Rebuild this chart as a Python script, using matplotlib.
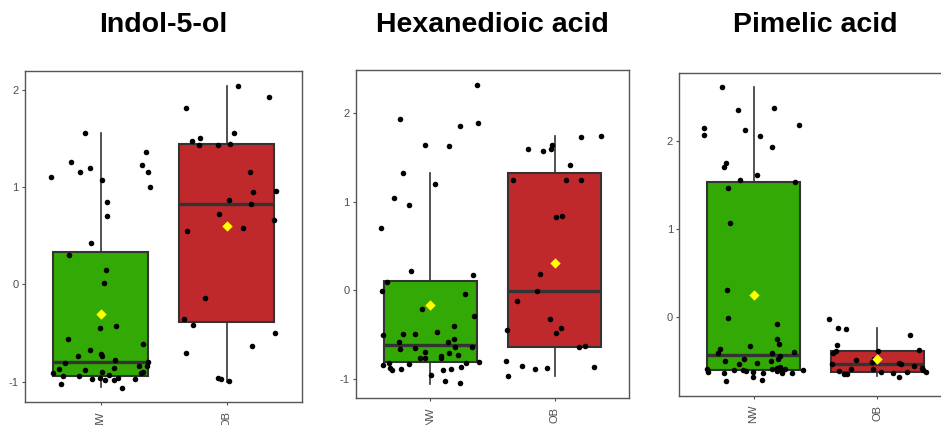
import matplotlib
matplotlib.use('Agg')
import matplotlib.pyplot as plt

plt.rcParams['font.family'] = ['Liberation Sans', 'DejaVu Sans']
plt.rcParams['axes.unicode_minus'] = False

titles = ['Indol-5-ol', 'Hexanedioic acid', 'Pimelic acid']
groups = ['NW', 'OB']
colors = ['#32a904', '#bf292b']

# box stats per panel: [NW, OB] -> (whislo, q1, med, q3, whishi)
box_stats = [
    [(-1.06, -0.94, -0.80, 0.33, 1.55), (-1.00, -0.39, 0.82, 1.44, 2.04)],
    [(-1.06, -0.81, -0.62, 0.106, 1.32), (-0.97, -0.64, -0.01, 1.33, 1.74)],
    [(-0.70, -0.605, -0.433, 1.54, 2.616), (-0.68, -0.63, -0.54, -0.39, -0.133)],
]
means = [[-0.31, 0.60], [-0.17, 0.31], [0.243, -0.483]]

# jittered points: (x offset from group centre, value)
p1_nw = [(-0.392, 1.103), (-0.238, 1.260), (-0.167, 1.154), (-0.127, 1.555), (-0.085, 1.192),
         (0.011, 1.072), (0.053, 0.849), (0.048, 0.705), (-0.077, 0.425), (-0.254, 0.298),
         (0.042, 0.144), (0.029, 0.014), (0.325, 1.223), (0.362, 1.353), (0.378, 1.154),
         (0.394, 1.003), (-0.008, -0.452), (0.119, -0.432), (-0.259, -0.558), (0.336, -0.613),
         (-0.087, -0.678), (-0.183, -0.733), (0.0, -0.719), (0.008, -0.733), (0.111, -0.774),
         (-0.283, -0.805), (0.304, -0.836), (0.373, -0.801), (0.365, -0.836), (-0.331, -0.870),
         (-0.376, -0.908), (-0.124, -0.884), (0.013, -0.901), (0.108, -0.860), (0.317, -0.914),
         (0.336, -0.901), (-0.299, -0.942), (-0.172, -0.938), (-0.066, -0.969), (-0.008, -0.966),
         (0.034, -0.983), (0.069, -0.932), (0.108, -0.983), (0.138, -0.962), (0.275, -0.976),
         (-0.312, -1.021), (0.172, -1.065)]
p1_ob = [(-0.320, 1.808), (-0.275, 1.476), (-0.212, 1.497), (-0.222, 1.435), (-0.069, 1.435),
         (0.056, 1.551), (0.024, 1.438), (0.090, 2.038), (0.339, 1.925), (0.185, 1.154),
         (0.212, 0.945), (0.394, 0.955), (0.021, 0.863), (0.196, 0.825), (-0.056, 0.726),
         (0.381, 0.658), (-0.310, 0.545), (0.132, 0.582), (-0.172, -0.140), (-0.339, -0.356),
         (-0.270, -0.418), (0.386, -0.500), (0.204, -0.630), (-0.320, -0.709), (-0.066, -0.966),
         (-0.042, -0.976), (0.021, -0.997)]
p2_nw = [(0.373, 2.321), (0.381, 1.887), (-0.249, 1.936), (0.236, 1.860), (-0.040, 1.642),
         (0.153, 1.634), (-0.225, 1.328), (0.038, 1.196), (-0.295, 1.038), (-0.169, 0.958),
         (-0.397, 0.706), (-0.153, 0.219), (0.340, 0.166), (-0.394, -0.011), (-0.354, 0.087),
         (0.282, -0.045), (-0.070, -0.215), (0.351, -0.298), (0.190, -0.404), (-0.381, -0.502),
         (-0.225, -0.494), (-0.121, -0.494), (0.054, -0.468), (0.193, -0.555), (0.142, -0.585),
         (-0.252, -0.592), (-0.247, -0.664), (-0.126, -0.657), (0.198, -0.645), (0.338, -0.645),
         (-0.046, -0.694), (-0.086, -0.762), (-0.043, -0.762), (0.083, -0.743), (0.088, -0.766),
         (0.147, -0.713), (0.223, -0.732), (-0.383, -0.849), (-0.332, -0.823), (-0.172, -0.834),
         (-0.308, -0.898), (-0.322, -0.879), (-0.241, -0.887), (0.290, -0.819), (0.389, -0.808),
         (0.105, -0.898), (0.169, -0.891), (0.249, -0.868), (0.008, -0.955), (0.121, -1.023),
         (0.241, -1.053)]
p2_ob = [(0.375, 1.747), (0.214, 1.732), (-0.021, 1.642), (-0.027, 1.596), (-0.091, 1.574),
         (-0.217, 1.596), (0.121, 1.415), (0.094, 1.242), (0.217, 1.245), (-0.335, 1.242),
         (0.059, 0.838), (0.011, 0.823), (-0.118, 0.185), (-0.145, -0.008), (-0.300, -0.121),
         (-0.038, -0.328), (-0.383, -0.453), (0.056, -0.430), (0.008, -0.487), (0.201, -0.642),
         (0.244, -0.630), (-0.394, -0.796), (-0.373, -0.974), (-0.265, -0.860), (-0.155, -0.894),
         (-0.064, -0.879), (0.319, -0.868)]
p3_nw = [(-0.256, 2.620), (-0.127, 2.354), (0.167, 2.373), (-0.402, 2.148), (-0.402, 2.076),
         (-0.073, 2.125), (0.051, 2.057), (0.369, 2.186), (0.146, 1.928), (-0.221, 1.757),
         (-0.237, 1.711), (-0.113, 1.563), (0.027, 1.616), (-0.208, 1.464), (0.337, 1.532),
         (-0.189, 1.065), (-0.216, 0.308), (-0.205, -0.011), (0.191, -0.087), (0.191, -0.259),
         (0.205, -0.308), (-0.275, -0.369), (-0.291, -0.414), (-0.032, -0.331), (0.146, -0.418),
         (0.326, -0.407), (0.213, -0.452), (0.199, -0.479), (-0.232, -0.510), (-0.075, -0.483),
         (-0.116, -0.544), (0.030, -0.529), (0.143, -0.510), (0.213, -0.570), (-0.377, -0.593),
         (-0.372, -0.627), (-0.237, -0.646), (-0.156, -0.612), (-0.089, -0.608), (-0.062, -0.620),
         (-0.003, -0.627), (-0.003, -0.684), (0.073, -0.639), (0.151, -0.597), (0.186, -0.589),
         (0.191, -0.624), (0.226, -0.608), (0.251, -0.601), (0.232, -0.646), (0.310, -0.639),
         (0.402, -0.605), (-0.226, -0.738), (0.065, -0.719)]
p3_ob = [(-0.391, -0.030), (-0.315, -0.129), (-0.251, -0.141), (0.261, -0.205), (-0.323, -0.323),
         (-0.337, -0.388), (-0.356, -0.411), (0.334, -0.380), (0.003, -0.392), (-0.173, -0.490),
         (-0.046, -0.513), (-0.024, -0.483), (-0.369, -0.544), (0.178, -0.532), (0.194, -0.544),
         (0.296, -0.559), (-0.310, -0.620), (-0.216, -0.593), (-0.032, -0.593), (0.030, -0.627),
         (-0.270, -0.654), (-0.248, -0.650), (0.127, -0.643), (0.173, -0.684), (0.243, -0.627),
         (0.358, -0.589), (0.372, -0.612), (0.391, -0.635)]
points = [[p1_nw, p1_ob], [p2_nw, p2_ob], [p3_nw, p3_ob]]

yticks = [[-1, 0, 1, 2], [-1, 0, 1, 2], [0, 1, 2]]
ylims = [(-1.21, 2.19), (-1.22, 2.49), (-0.90, 2.78)]

# axes rectangles in figure fractions
rects = [[0.0266, 0.0541, 0.2944, 0.7788],
         [0.3783, 0.0635, 0.2901, 0.7718],
         [0.7219, 0.0689, 0.2893, 0.7600]]

fig = plt.figure(figsize=(9.41, 4.25), dpi=100)
fig.patch.set_facecolor('white')

for i in range(3):
    ax = fig.add_axes(rects[i])
    stats = []
    for j in range(2):
        lo, q1, med, q3, hi = box_stats[i][j]
        stats.append({'whislo': lo, 'q1': q1, 'med': med, 'q3': q3, 'whishi': hi})
    bp = ax.bxp(stats, positions=[1, 2], widths=0.75, patch_artist=True,
                showfliers=False, showcaps=False,
                boxprops=dict(edgecolor='#333333', linewidth=1.5),
                medianprops=dict(color='#333333', linewidth=2.4),
                whiskerprops=dict(color='#333333', linewidth=1.2))
    for patch, c in zip(bp['boxes'], colors):
        patch.set_facecolor(c)
    for j in range(2):
        xs = [j + 1 + dx for dx, _ in points[i][j]]
        ys = [v for _, v in points[i][j]]
        ax.scatter(xs, ys, s=16, color='black', zorder=4, linewidths=0)
    ax.scatter([1, 2], means[i], marker='D', s=28, color='#ffff00', zorder=5, linewidths=0)

    ax.set_xlim(0.4, 2.6)
    ax.set_ylim(*ylims[i])
    ax.set_yticks(yticks[i])
    ax.set_yticklabels([str(t) for t in yticks[i]])
    ax.set_xticks([1, 2])
    ax.set_xticklabels(groups, rotation=90, va='top', ha='center')
    ax.tick_params(colors='#4d4d4d', labelsize=8, length=2.5, width=0.8, pad=2)
    ax.tick_params(axis='x', pad=4)
    for sp in ax.spines.values():
        sp.set_color('#555555')
        sp.set_linewidth(1.0)
    cx = rects[i][0] + rects[i][2] / 2
    fig.text(cx, 0.94, titles[i], ha='center', va='center', fontsize=20.5, fontweight='bold')

fig.savefig('out.png', dpi=100)
